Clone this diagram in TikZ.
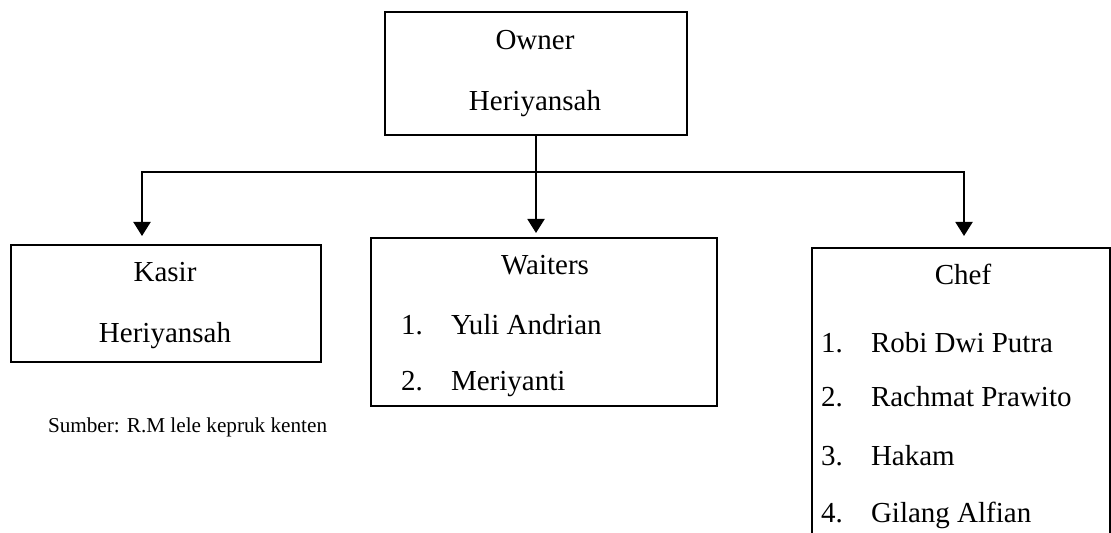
\documentclass[tikz,border=0pt]{standalone}
\usepackage{fontspec}
\setmainfont{Liberation Serif}
\usetikzlibrary{arrows.meta}
\usetikzlibrary{calc}

\begin{document}
\begin{tikzpicture}[x=0.5pt, y=-0.5pt,
    font=\fontsize{14.5}{17}\selectfont,
    line width=1pt,
    orgbox/.style={shape=rectangle, draw, inner sep=0pt},
    title/.style={anchor=base, inner sep=0pt},
    item/.style={anchor=base west, inner sep=0pt},
    link/.style={-{Triangle[width=8.5pt,length=7pt]}}]
    \path [use as bounding box] (0,0) rectangle (1111,533);
    \clip (0,0) rectangle (1111,533);

    \node[name=owner,
      orgbox,
      minimum width=151pt,
      minimum height=61.5pt] at (536,73.5) {};
    \node[name=ownerrole, title] at (535,50) {Owner};
    \node[name=ownername, title] at (535,111) {Heriyansah};

    \node[name=kasir,
      orgbox,
      minimum width=155pt,
      minimum height=58.5pt] at (166,303.5) {};
    \node[name=kasirrole, title] at (165,282) {Kasir};
    \node[name=kasirname, title] at (165,343) {Heriyansah};

    \node[name=waiters,
      orgbox,
      minimum width=173pt,
      minimum height=84pt] at (544,322) {};
    \node[name=waitersrole, title] at (545,275) {Waiters};
    \node[name=waiter1, item] at (400,335) {\makebox[25pt][l]{1.}Yuli Andrian};
    \node[name=waiter2, item] at (400,390) {\makebox[25pt][l]{2.}Meriyanti};

    \node[name=chef,
      orgbox,
      minimum width=149pt,
      minimum height=200pt] at (961,448) {};
    \node[name=chefrole, title] at (963,285) {Chef};
    \node[name=chef1, item] at (820,352) {\makebox[25pt][l]{1.}Robi Dwi Putra};
    \node[name=chef2, item] at (820,407) {\makebox[25pt][l]{2.}Rachmat Prawito};
    \node[name=chef3, item] at (820,465) {\makebox[25pt][l]{3.}Hakam};
    \node[name=chef4, item] at (820,522) {\makebox[25pt][l]{4.}Gilang Alfian};

    \node[name=source, item, font=\fontsize{10.6}{13}\selectfont]
      at (47,432) {Sumber: R.M lele kepruk kenten};

    \coordinate (fork) at (536,172);
    \coordinate (leftarm) at (142,172);
    \coordinate (rightarm) at (964,172);

    \draw (owner.south) -- (fork);
    \draw[link, shorten >=4pt] (fork) -| (kasir.north -| leftarm);
    \draw[link, shorten >=5.5pt] (fork) -| (chef.north -| rightarm);
    \draw[link, shorten >=2pt] (fork) -- (waiters.north -| fork);
\end{tikzpicture}
\end{document}
